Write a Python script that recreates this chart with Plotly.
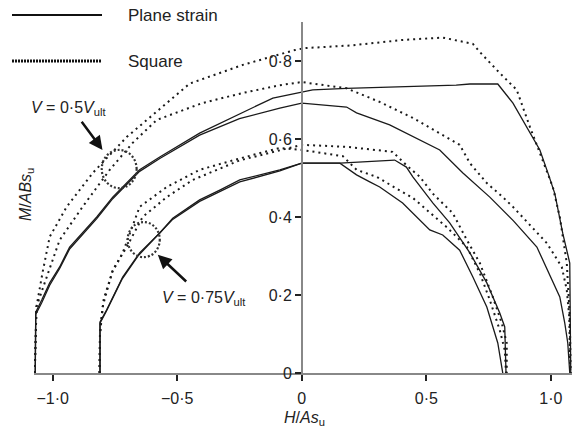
import plotly.graph_objects as go

# ---------------- data (H/As_u, M/ABs_u) ----------------
# V = 0.5 V_ult, plane strain
ps05a_H = [-1.07, -1.068, -1.044, -1.012, -0.972, -0.932, -0.823, -0.759, -0.651, -0.57, -0.41, -0.25, -0.116, 0.0, 0.044, 0.18, 0.62, 0.675, 0.787, 0.848, 0.916, 0.956, 0.99, 1.016, 1.048, 1.076, 1.08]
ps05a_M = [0.0, 0.156, 0.187, 0.231, 0.272, 0.323, 0.4, 0.451, 0.521, 0.554, 0.615, 0.663, 0.705, 0.72, 0.726, 0.73, 0.738, 0.741, 0.741, 0.692, 0.615, 0.572, 0.51, 0.46, 0.358, 0.282, 0.0]
ps05b_H = [-1.07, -1.068, -1.044, -1.012, -0.972, -0.932, -0.823, -0.759, -0.651, -0.57, -0.41, -0.25, -0.088, 0.0, 0.18, 0.22, 0.353, 0.474, 0.554, 0.647, 0.755, 0.85, 0.944, 1.036, 1.056, 1.068, 1.076]
ps05b_M = [0.0, 0.15, 0.18, 0.225, 0.268, 0.318, 0.396, 0.447, 0.517, 0.55, 0.61, 0.652, 0.679, 0.692, 0.682, 0.667, 0.636, 0.597, 0.572, 0.513, 0.451, 0.39, 0.323, 0.195, 0.128, 0.077, 0.0]
# V = 0.5 V_ult, square
sq05a_H = [-1.072, -1.068, -1.065, -1.04, -1.012, -0.944, -0.839, -0.703, -0.623, -0.45, -0.237, -0.028, 0.012, 0.2, 0.405, 0.566, 0.687, 0.715, 0.795, 0.863, 0.916, 0.968, 1.008, 1.036, 1.064, 1.076, 1.08]
sq05a_M = [0.0, 0.1, 0.17, 0.26, 0.349, 0.426, 0.513, 0.605, 0.649, 0.742, 0.79, 0.828, 0.833, 0.84, 0.854, 0.86, 0.844, 0.823, 0.769, 0.726, 0.631, 0.546, 0.477, 0.4, 0.282, 0.144, 0.0]
sq05b_H = [-1.072, -1.068, -1.065, -1.024, -0.972, -0.88, -0.771, -0.679, -0.582, -0.4, -0.237, -0.088, 0.0, 0.18, 0.313, 0.446, 0.554, 0.634, 0.675, 0.743, 0.807, 0.848, 0.984, 1.044, 1.064, 1.074, 1.078]
sq05b_M = [0.0, 0.1, 0.17, 0.246, 0.341, 0.426, 0.521, 0.59, 0.649, 0.692, 0.718, 0.738, 0.746, 0.73, 0.695, 0.654, 0.615, 0.585, 0.538, 0.487, 0.451, 0.426, 0.333, 0.272, 0.213, 0.144, 0.0]
# V = 0.75 V_ult, plane strain
ps075a_H = [-0.81, -0.81, -0.783, -0.719, -0.651, -0.57, -0.518, -0.41, -0.329, -0.249, -0.088, 0.0, 0.153, 0.373, 0.42, 0.446, 0.526, 0.594, 0.675, 0.743, 0.795, 0.815, 0.82]
ps075a_M = [0.0, 0.131, 0.162, 0.246, 0.308, 0.359, 0.397, 0.444, 0.469, 0.495, 0.521, 0.538, 0.538, 0.546, 0.528, 0.503, 0.436, 0.385, 0.308, 0.231, 0.154, 0.118, 0.0]
ps075b_H = [-0.81, -0.81, -0.785, -0.722, -0.655, -0.575, -0.52, -0.41, -0.329, -0.249, -0.088, 0.0, 0.153, 0.22, 0.273, 0.313, 0.405, 0.514, 0.566, 0.634, 0.687, 0.743, 0.787, 0.807]
ps075b_M = [0.0, 0.128, 0.158, 0.24, 0.302, 0.355, 0.393, 0.44, 0.465, 0.49, 0.518, 0.538, 0.538, 0.508, 0.49, 0.477, 0.436, 0.367, 0.354, 0.315, 0.246, 0.169, 0.077, 0.0]
# V = 0.75 V_ult, square
sq075a_H = [-0.812, -0.81, -0.8, -0.759, -0.703, -0.639, -0.542, -0.438, -0.25, -0.088, 0.0, 0.18, 0.365, 0.42, 0.474, 0.526, 0.606, 0.663, 0.715, 0.767, 0.803, 0.823, 0.823]
sq075a_M = [0.0, 0.1, 0.169, 0.264, 0.323, 0.4, 0.451, 0.495, 0.545, 0.572, 0.585, 0.58, 0.567, 0.533, 0.503, 0.46, 0.41, 0.341, 0.282, 0.195, 0.128, 0.077, 0.0]
sq075b_H = [-0.812, -0.81, -0.795, -0.76, -0.719, -0.651, -0.542, -0.41, -0.25, -0.088, 0.0, 0.165, 0.22, 0.3, 0.405, 0.446, 0.582, 0.663, 0.715, 0.755, 0.795, 0.815, 0.82]
sq075b_M = [0.0, 0.1, 0.19, 0.26, 0.308, 0.426, 0.477, 0.521, 0.55, 0.577, 0.572, 0.556, 0.521, 0.503, 0.464, 0.449, 0.374, 0.323, 0.256, 0.187, 0.11, 0.059, 0.0]

x_ticks = [-1.0, -0.5, 0.0, 0.5, 1.0]
x_ticklabels = ["\u22121\u00b70", "\u22120\u00b75", "0", "0\u00b75", "1\u00b70"]
y_ticks = [0.0, 0.2, 0.4, 0.6, 0.8]
y_ticklabels = ["0", "0\u00b72", "0\u00b74", "0\u00b76", "0\u00b78"]
legend_labels = ["Plane strain", "Square"]

# ---------------- layout geometry ----------------
W, Hpx = 578, 432
ML, MR, MT, MB = 34, 6, 22, 59
XR = [-1.075, 1.085]
YR = [0.0, 0.9]
PW = W - ML - MR
PH = Hpx - MT - MB


def px(xp):
    return (xp - ML) / PW


def py(yp):
    return (Hpx - MB - yp) / PH


FONT = "Liberation Sans, Arial, sans-serif"
solid = dict(color="#1a1a1a", width=1.3)
dotted = dict(color="#1a1a1a", width=2, dash="2px,4px")

fig = go.Figure()
for Hs, Ms, ln in [
    (ps05a_H, ps05a_M, solid), (ps05b_H, ps05b_M, solid),
    (sq05a_H, sq05a_M, dotted), (sq05b_H, sq05b_M, dotted),
    (ps075a_H, ps075a_M, solid), (ps075b_H, ps075b_M, solid),
    (sq075a_H, sq075a_M, dotted), (sq075b_H, sq075b_M, dotted),
]:
    fig.add_trace(go.Scatter(x=Hs, y=Ms, mode="lines", line=ln,
                             showlegend=False, hoverinfo="skip"))

shapes = [
    # legend samples
    dict(type="line", xref="paper", yref="paper", x0=px(12), x1=px(102),
         y0=py(15), y1=py(15), line=dict(color="#111", width=2)),
    dict(type="line", xref="paper", yref="paper", x0=px(12), x1=px(102),
         y0=py(61), y1=py(61), line=dict(color="#111", width=3, dash="2px,1px")),
    # ellipses
    dict(type="circle", xref="x", yref="y", x0=-0.803, x1=-0.663, y0=0.474, y1=0.572,
         line=dict(color="#333", width=2.2, dash="2px,2px")),
    dict(type="circle", xref="x", yref="y", x0=-0.699, x1=-0.570, y0=0.297, y1=0.387,
         line=dict(color="#333", width=2.2, dash="2px,2px")),
]

annotations = [
    dict(text=legend_labels[0], xref="paper", yref="paper", x=px(126), y=py(15),
         xanchor="left", yanchor="middle", showarrow=False, font=dict(size=17, color="#222", family=FONT)),
    dict(text=legend_labels[1], xref="paper", yref="paper", x=px(126), y=py(61),
         xanchor="left", yanchor="middle", showarrow=False, font=dict(size=17, color="#222", family=FONT)),
    dict(text="<i>M</i>/<i>ABs</i><sub>u</sub>", xref="paper", yref="paper", x=px(27), y=py(195),
         xanchor="center", yanchor="middle", textangle=-90, showarrow=False,
         font=dict(size=16, color="#222", family=FONT)),
    dict(text="<i>H</i>/<i>As</i><sub>u</sub>", xref="paper", yref="paper", x=px(304), y=py(418),
         xanchor="center", yanchor="middle", showarrow=False,
         font=dict(size=16, color="#222", family=FONT)),
    dict(text="<i>V</i> = 0\u00b75<i>V</i><sub>ult</sub>", xref="paper", yref="paper", x=px(68), y=py(108),
         xanchor="center", yanchor="middle", showarrow=False,
         font=dict(size=16, color="#222", family=FONT)),
    dict(text="<i>V</i> = 0\u00b775<i>V</i><sub>ult</sub>", xref="paper", yref="paper", x=px(204), y=py(298),
         xanchor="center", yanchor="middle", showarrow=False,
         font=dict(size=16, color="#222", family=FONT)),
    # arrows
    dict(x=-0.8, y=0.572, ax=-0.888, ay=0.648, xref="x", yref="y", axref="x", ayref="y",
         text="", showarrow=True, arrowhead=2, arrowsize=1.1, arrowwidth=2.5, arrowcolor="#111"),
    dict(x=-0.578, y=0.303, ax=-0.458, ay=0.231, xref="x", yref="y", axref="x", ayref="y",
         text="", showarrow=True, arrowhead=2, arrowsize=1.1, arrowwidth=2.5, arrowcolor="#111"),
]

fig.update_layout(
    width=W, height=Hpx,
    margin=dict(l=ML, r=MR, t=MT, b=MB),
    paper_bgcolor="white", plot_bgcolor="white",
    font=dict(family=FONT, size=16, color="#222"),
    shapes=shapes, annotations=annotations,
    xaxis=dict(range=XR, tickmode="array", tickvals=x_ticks, ticktext=x_ticklabels,
               showgrid=False, zeroline=False, showline=True, linecolor="#888", linewidth=1.5,
               ticks="outside", ticklen=6, tickwidth=2, tickcolor="#222",
               ticklabelstandoff=4, fixedrange=True),
    yaxis=dict(range=YR, tickmode="array", tickvals=y_ticks, ticktext=y_ticklabels,
               showgrid=False, zeroline=False, showline=True, linecolor="#888", linewidth=1.5,
               ticks="outside", ticklen=6, tickwidth=1.5, tickcolor="#222",
               anchor="free", position=(0 - XR[0]) / (XR[1] - XR[0]), fixedrange=True),
)

fig.write_html("out.html")
